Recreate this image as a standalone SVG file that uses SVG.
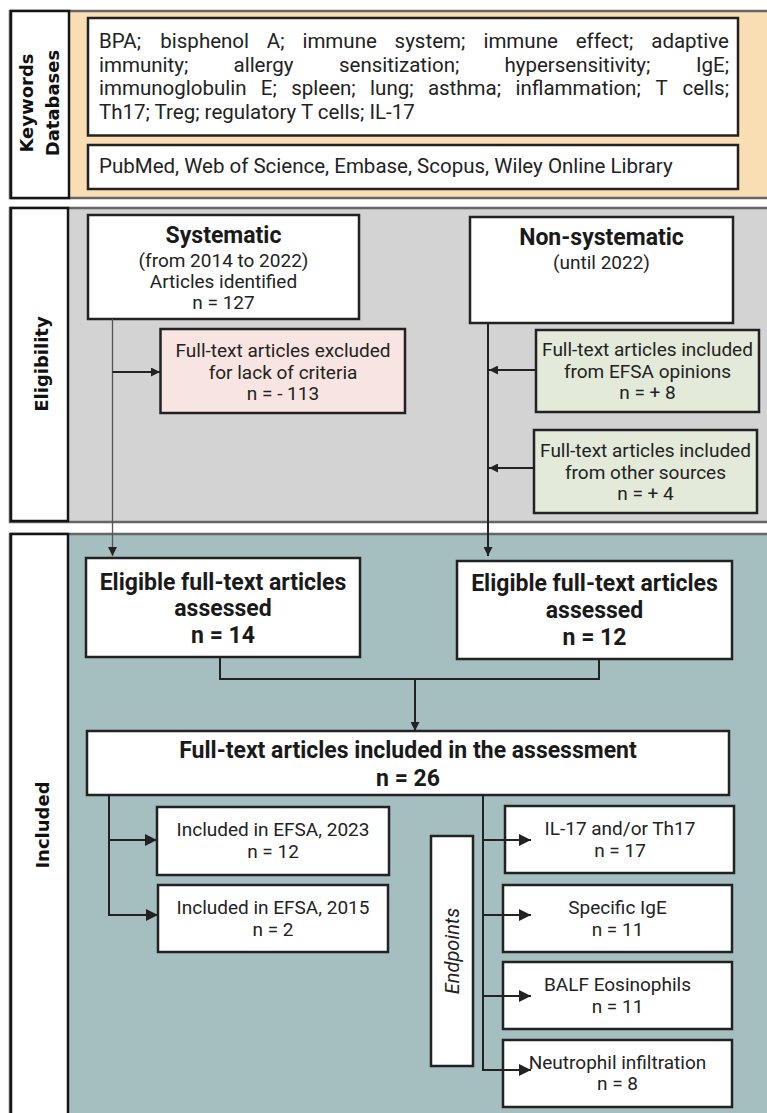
<svg xmlns="http://www.w3.org/2000/svg" width="767" height="1113" viewBox="0 0 767 1113">
<defs>
<style>
.sec{stroke:#666;stroke-width:2.5}
.lab{fill:#fff;stroke:#151515;stroke-width:2.5}
.box{fill:#fff;stroke:#222;stroke-width:2.5}
.t{font-family:Roboto,"Liberation Sans",sans-serif;font-size:19px;fill:#222;text-anchor:middle}
.h{font-family:Roboto,"Liberation Sans",sans-serif;font-size:23px;font-weight:bold;fill:#1a1a1a;text-anchor:middle}
.kw{font-family:Roboto,"Liberation Sans",sans-serif;font-size:20.5px;fill:#222}
.vl{font-family:"DejaVu Sans",sans-serif;font-size:18px;font-weight:bold;fill:#111;text-anchor:middle}
.ep{font-family:Roboto,"Liberation Sans",sans-serif;font-size:20px;font-style:italic;fill:#222;text-anchor:middle}
.ln{fill:none;stroke:#222;stroke-width:2}
.thin{fill:none;stroke:#555;stroke-width:1.3}
</style>
<marker id="as" viewBox="0 0 10 10" refX="10" refY="5" markerUnits="userSpaceOnUse" markerWidth="9" markerHeight="9" orient="auto"><path d="M0,0 L10,5 L0,10 z" fill="#222"/></marker>
<marker id="al" viewBox="0 0 10 10" refX="10" refY="5" markerUnits="userSpaceOnUse" markerWidth="13" markerHeight="12" orient="auto"><path d="M0,0 L10,5 L0,10 z" fill="#222"/></marker>
</defs>

<g id="section-keywords">
<rect class="sec" x="10" y="11" width="770" height="187" fill="#F9DEB3"/>
<rect class="lab" x="11" y="11" width="58" height="187"/>
<text class="vl" x="33" y="103" transform="rotate(-90 33 103)">Keywords</text>
<text class="vl" x="59" y="103" transform="rotate(-90 59 103)">Databases</text>
</g>
<g id="section-eligibility">
<rect class="sec" x="10" y="208" width="770" height="314" fill="#D3D3D3"/>
<rect class="lab" x="11" y="208" width="57" height="313"/>
<text class="vl" x="48" y="364" transform="rotate(-90 48 364)">Eligibility</text>
</g>
<g id="section-included">
<rect class="sec" x="10" y="534" width="770" height="600" fill="#A5BFC0"/>
<rect class="lab" x="11" y="534" width="57" height="600"/>
<text class="vl" x="49" y="825" transform="rotate(-90 49 825)">Included</text>
</g>

<g id="keywords">
<rect class="box" x="88" y="18" width="650" height="117.5"/>
<text class="kw" y="48"><tspan x="99">BPA;</tspan> <tspan x="160.3">bisphenol</tspan> <tspan x="266.8">A;</tspan> <tspan x="302.4">immune</tspan> <tspan x="394.6">system;</tspan> <tspan x="483.4">immune</tspan> <tspan x="575.7">effect;</tspan> <tspan x="729" text-anchor="end">adaptive</tspan></text>
<text class="kw" y="71.5"><tspan x="99">immunity;</tspan> <tspan x="233.5">allergy</tspan> <tspan x="339">sensitization;</tspan> <tspan x="504.4">hypersensitivity;</tspan> <tspan x="729" text-anchor="end">IgE;</tspan></text>
<text class="kw" y="95"><tspan x="99">immunoglobulin</tspan> <tspan x="260.8">E;</tspan> <tspan x="291.2">spleen;</tspan> <tspan x="370.1">lung;</tspan> <tspan x="427.9">asthma;</tspan> <tspan x="515.5">inflammation;</tspan> <tspan x="655.6">T</tspan> <tspan x="729" text-anchor="end">cells;</tspan></text>
<text class="kw" x="99" y="118.5">Th17; Treg; regulatory T cells; IL-17</text>
</g>
<g id="databases">
<rect class="box" x="88" y="145" width="650" height="44"/>
<text class="kw" x="99" y="173">PubMed, Web of Science, Embase, Scopus, Wiley Online Library</text>
</g>

<g id="systematic">
<rect class="box" x="88" y="215" width="271" height="104"/>
<text class="h" x="223.5" y="243">Systematic</text>
<text class="t" x="223.5" y="266.5">(from 2014 to 2022)</text>
<text class="t" x="223.5" y="287.5">Articles identified</text>
<text class="t" x="223.5" y="309">n = 127</text>
</g>
<g id="non-systematic">
<rect class="box" x="470" y="217" width="263" height="106"/>
<text class="h" x="601.5" y="245">Non-systematic</text>
<text class="t" x="601.5" y="268.5">(until 2022)</text>
</g>
<g id="excluded">
<rect class="box" x="160.5" y="329" width="244.5" height="84" fill="#F8E4E0" style="fill:#F8E4E0"/>
<text class="t" x="283" y="356.5">Full-text articles excluded</text>
<text class="t" x="283" y="378.5">for lack of criteria</text>
<text class="t" x="283" y="399.5">n = - 113</text>
</g>
<g id="efsa-opinions">
<rect class="box" x="536" y="330" width="223" height="82" style="fill:#E3EADA"/>
<text class="t" x="647.5" y="355.5">Full-text articles included</text>
<text class="t" x="647.5" y="377.5">from EFSA opinions</text>
<text class="t" x="647.5" y="398.5">n = + 8</text>
</g>
<g id="other-sources">
<rect class="box" x="534" y="430" width="223" height="83" style="fill:#E3EADA"/>
<text class="t" x="645.5" y="456.5">Full-text articles included</text>
<text class="t" x="645.5" y="478.5">from other sources</text>
<text class="t" x="645.5" y="499.5">n = + 4</text>
</g>

<g id="eligible-systematic">
<rect class="box" x="86" y="558" width="274" height="99"/>
<text class="h" x="223" y="590">Eligible full-text articles</text>
<text class="h" x="223" y="616">assessed</text>
<text class="h" x="223" y="643">n = 14</text>
</g>
<g id="eligible-non-systematic">
<rect class="box" x="457" y="561" width="275" height="98"/>
<text class="h" x="594.5" y="591">Eligible full-text articles</text>
<text class="h" x="594.5" y="618">assessed</text>
<text class="h" x="594.5" y="645">n = 12</text>
</g>
<g id="assessment">
<rect class="box" x="87" y="731" width="642" height="64"/>
<text class="h" x="408" y="758">Full-text articles included in the assessment</text>
<text class="h" x="408" y="786">n = 26</text>
</g>
<g id="efsa-2023">
<rect class="box" x="157" y="807" width="232" height="68"/>
<text class="t" x="273" y="835.5">Included in EFSA, 2023</text>
<text class="t" x="273" y="857.5">n = 12</text>
</g>
<g id="efsa-2015">
<rect class="box" x="158" y="885" width="230" height="67"/>
<text class="t" x="273" y="913.5">Included in EFSA, 2015</text>
<text class="t" x="273" y="935.5">n = 2</text>
</g>
<g id="endpoints">
<rect class="box" x="431" y="836" width="42" height="230"/>
<text class="ep" x="459" y="951" transform="rotate(-90 459 951)">Endpoints</text>
</g>
<g id="il17">
<rect class="box" x="505" y="806" width="229" height="67"/>
<text class="t" x="620" y="834.5">IL-17 and/or Th17</text>
<text class="t" x="620" y="856.5">n = 17</text>
</g>
<g id="ige">
<rect class="box" x="503" y="885" width="229" height="67"/>
<text class="t" x="617.5" y="913.5">Specific IgE</text>
<text class="t" x="617.5" y="935.5">n = 11</text>
</g>
<g id="balf">
<rect class="box" x="503" y="962" width="229" height="67"/>
<text class="t" x="617.5" y="990.5">BALF Eosinophils</text>
<text class="t" x="617.5" y="1012.5">n = 11</text>
</g>
<g id="neutrophil">
<rect class="box" x="503" y="1040" width="229" height="67"/>
<text class="t" x="617.5" y="1068.5">Neutrophil infiltration</text>
<text class="t" x="617.5" y="1089.5">n = 8</text>
</g>

<g id="connectors">
<path class="thin" d="M112.5 319 V556" marker-end="url(#as)"/>
<path class="ln" d="M112.5 372 H160" marker-end="url(#as)"/>
<path class="ln" d="M488 323 V556" marker-end="url(#as)"/>
<path class="ln" d="M536 370 H489" marker-end="url(#as)"/>
<path class="ln" d="M534 468 H489" marker-end="url(#as)"/>
<path class="ln" d="M220 657 V679 H599 V659"/>
<path class="ln" d="M415 679 V731" marker-end="url(#as)"/>
<path class="ln" d="M109 795 V915"/>
<path class="ln" d="M108 840 H157" marker-end="url(#al)"/>
<path class="ln" d="M108 915 H158" marker-end="url(#al)"/>
<path class="ln" d="M483 795 V1070"/>
<path class="ln" d="M482 840 H531" marker-end="url(#al)"/>
<path class="ln" d="M482 915 H531" marker-end="url(#al)"/>
<path class="ln" d="M482 996 H531" marker-end="url(#al)"/>
<path class="ln" d="M482 1070 H531" marker-end="url(#al)"/>
</g>
</svg>
